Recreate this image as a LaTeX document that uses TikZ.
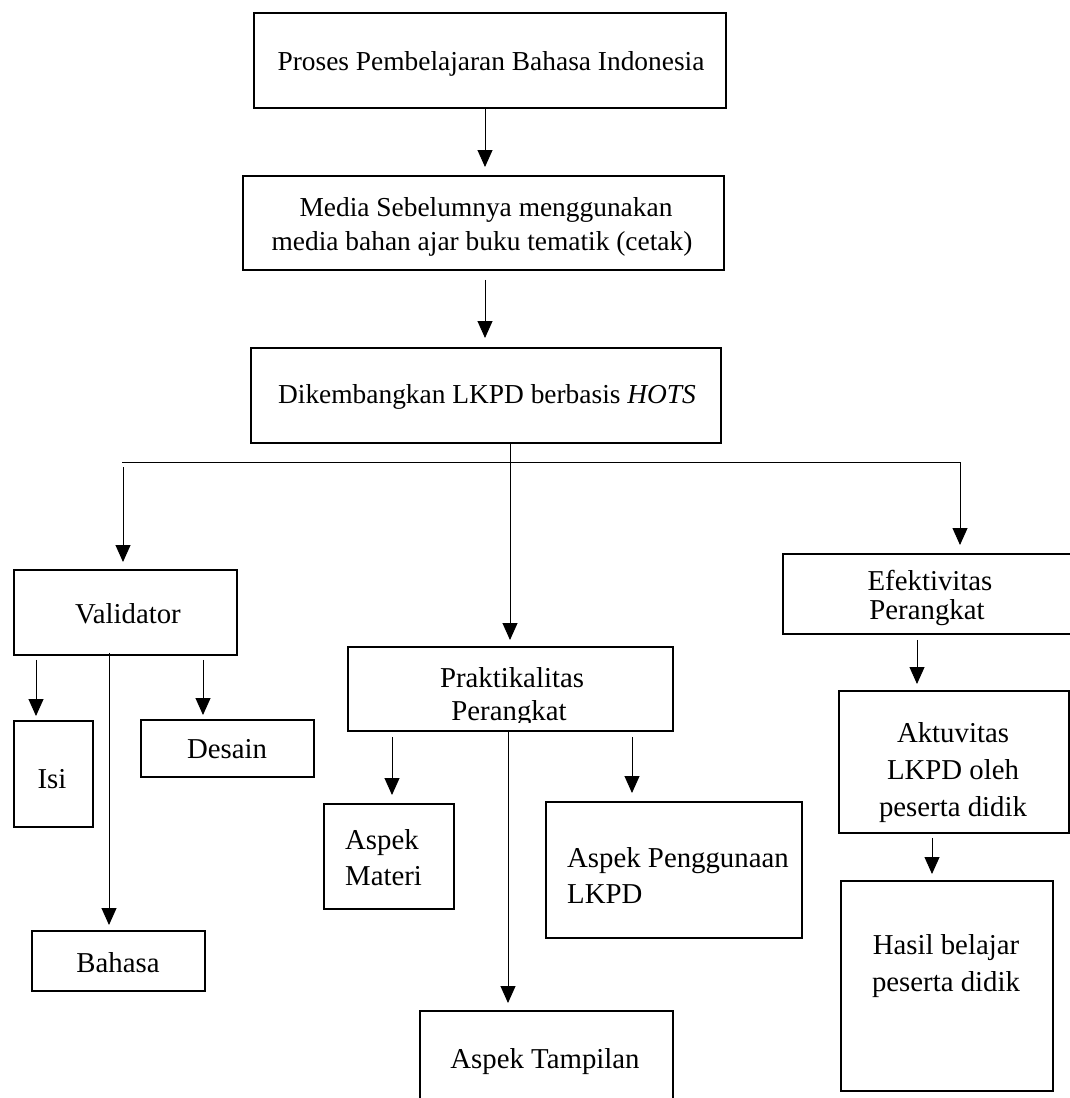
\documentclass[tikz,border=0pt]{standalone}
\usepackage{fontspec}
\setmainfont{Liberation Serif}
\usetikzlibrary{arrows.meta}
\begin{document}
\begin{tikzpicture}[x=1pt,y=-1pt,
  box/.style={draw, line width=1.8pt, inner sep=0pt, anchor=north west},
  txt/.style={inner sep=0pt, anchor=base, font=\fontsize{27.4}{33}\selectfont},
  txtb/.style={inner sep=0pt, anchor=base, font=\fontsize{28.8}{34}\selectfont},
  txtl/.style={txtb, anchor=base west},
  arr/.style={line width=0.9pt, -{Triangle[width=15pt,length=17pt]}},
  ln/.style={line width=0.9pt}]
\clip (0,0) rectangle (1070,1098);
\fill[white] (0,0) rectangle (1070,1098);
% boxes
\node[box, minimum width=472, minimum height=95] (pro) at (253,12) {};
\node[box, minimum width=481, minimum height=94] (med) at (242,175) {};
\node[box, minimum width=470, minimum height=95] (dik) at (250,347) {};
\node[box, minimum width=223, minimum height=85] (val) at (13,569) {};
\node[box, minimum width=79, minimum height=106] (isi) at (13,720) {};
\node[box, minimum width=173, minimum height=57] (des) at (140,719) {};
\node[box, minimum width=173, minimum height=60] (bah) at (31,930) {};
\node[box, minimum width=325, minimum height=84] (prk) at (347,646) {};
\node[box, minimum width=130, minimum height=105] (mat) at (323,803) {};
\node[box, minimum width=256, minimum height=136] (pen) at (545,801) {};
\node[box, minimum width=253, minimum height=120] (tam) at (419,1010) {};
\node[box, minimum width=300, minimum height=80] (efk) at (782,553) {};
\node[box, minimum width=230, minimum height=142] (akt) at (838,690) {};
\node[box, minimum width=212, minimum height=210] (has) at (840,880) {};
% texts
\node[txt] (t-pro) at (491,70) {Proses Pembelajaran Bahasa Indonesia};
\node[txt] (t-med1) at (486,216) {Media Sebelumnya menggunakan};
\node[txt] (t-med2) at (482,250) {media bahan ajar buku tematik (cetak)};
\node[txt] (t-dik) at (487,403) {Dikembangkan LKPD berbasis \textit{HOTS}};
\node[txtb] (t-val) at (128,623) {Validator};
\node[txtb] (t-isi) at (52,788) {Isi};
\node[txtb] (t-des) at (227,758) {Desain};
\node[txtb] (t-bah) at (118,972) {Bahasa};
\node[txtb] (t-prk1) at (512,687) {Praktikalitas};
\begin{scope}
  \clip (347,646) rectangle (672,722);
  \node[txtb] (t-prk2) at (509,720) {Perangkat};
\end{scope}
\node[txtl] (t-mat1) at (345,849) {Aspek};
\node[txtl] (t-mat2) at (345,885) {Materi};
\node[txtl] (t-pen1) at (567,867) {Aspek Penggunaan};
\node[txtl] (t-pen2) at (567,903) {LKPD};
\node[txtb] (t-tam) at (545,1068) {Aspek Tampilan};
\node[txtb] (t-efk1) at (930,590) {Efektivitas};
\node[txtb] (t-efk2) at (927,619) {Perangkat};
\node[txtb] (t-akt1) at (953,742) {Aktuvitas};
\node[txtb] (t-akt2) at (953,779) {LKPD oleh};
\node[txtb] (t-akt3) at (953,816) {peserta didik};
\node[txtb] (t-has1) at (946,954) {Hasil belajar};
\node[txtb] (t-has2) at (946,991) {peserta didik};
% bus
\coordinate (busL) at (122,462);
\coordinate (busR) at (960,462);
% connectors
\draw[arr] ([xshift=232pt]pro.south west) -- ([xshift=243pt,yshift=8pt]med.north west);
\draw[arr] ([xshift=243pt,yshift=-9pt]med.south west) -- ([xshift=235pt,yshift=9pt]dik.north west);
\draw[arr] ([xshift=260pt]dik.south west) -- ([xshift=163pt,yshift=6pt]prk.north west);
\draw[ln] (busL) -- (busR);
\draw[arr] ([xshift=1pt,yshift=-5pt]busL) -- ([xshift=110pt,yshift=7pt]val.north west);
\draw[arr] (busR) -- ([xshift=178pt,yshift=8pt]efk.north west);
\draw[arr] ([xshift=23pt,yshift=-4pt]val.south west) -- ([xshift=23pt,yshift=4pt]isi.north west);
\draw[arr] ([xshift=190pt,yshift=-4pt]val.south west) -- ([xshift=63pt,yshift=4pt]des.north west);
\draw[arr] ([xshift=96pt,yshift=3pt]val.south west) -- ([xshift=78pt,yshift=5pt]bah.north west);
\draw[arr] ([xshift=45pt,yshift=-5pt]prk.south west) -- ([xshift=69pt,yshift=8pt]mat.north west);
\draw[arr] ([xshift=285pt,yshift=-5pt]prk.south west) -- ([xshift=87pt,yshift=8pt]pen.north west);
\draw[arr] ([xshift=161pt]prk.south west) -- ([xshift=89pt,yshift=7pt]tam.north west);
\draw[arr] ([xshift=135pt,yshift=-5pt]efk.south west) -- ([xshift=79pt,yshift=6pt]akt.north west);
\draw[arr] ([xshift=94pt,yshift=-4pt]akt.south west) -- ([xshift=92pt,yshift=6pt]has.north west);
\end{tikzpicture}
\end{document}
